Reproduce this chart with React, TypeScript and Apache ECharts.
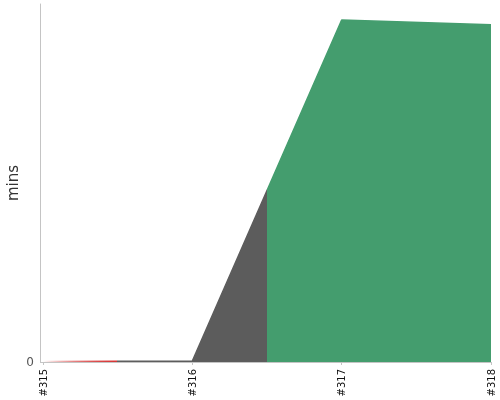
import { useEffect, useRef } from 'react'
import * as echarts from 'echarts'

const builds = ['#315', '#316', '#317', '#318']
const minutes = [0.2, 0.3, 95.5, 94.2]
const yTicks = [0, 100]

export default function App() {
  const chartRef = useRef<HTMLDivElement>(null)

  useEffect(() => {
    if (!chartRef.current) return
    const chart = echarts.init(chartRef.current, null, { renderer: 'svg' })

    // red fade, then grey, then green along x
    const fill = new echarts.graphic.LinearGradient(0, 0, 1, 0, [
      { offset: 0, color: 'rgba(214, 50, 50, 0)' },
      { offset: 0.165, color: 'rgba(214, 50, 50, 1)' },
      { offset: 0.165, color: '#5c5c5c' },
      { offset: 0.5, color: '#5c5c5c' },
      { offset: 0.5, color: '#449d6e' },
      { offset: 1, color: '#449d6e' }
    ])

    const option: any = {
      animation: false,
      grid: {
        left: 43,
        right: 9,
        top: 4,
        bottom: 38,
        containLabel: false,
        outerBoundsMode: 'none'
      },
      xAxis: {
        type: 'category',
        data: builds,
        boundaryGap: false,
        offset: 3,
        axisLine: {
          lineStyle: { color: '#c4c4c4' }
        },
        axisTick: {
          length: 3,
          lineStyle: { color: '#c4c4c4' }
        },
        axisLabel: {
          rotate: 90,
          margin: 4,
          fontSize: 10,
          color: '#111',
          fontFamily: 'DejaVu Sans'
        }
      },
      yAxis: {
        type: 'value',
        min: yTicks[0],
        max: yTicks[yTicks.length - 1],
        interval: yTicks[1] - yTicks[0],
        offset: 3,
        name: 'mins',
        nameLocation: 'middle',
        nameGap: 20,
        nameMoveOverlap: false,
        nameTextStyle: {
          fontSize: 15,
          color: '#333',
          fontFamily: 'DejaVu Sans'
        },
        axisLine: {
          show: true,
          lineStyle: { color: '#c4c4c4' }
        },
        axisTick: {
          show: true,
          inside: true,
          length: 3,
          lineStyle: { color: '#c4c4c4' }
        },
        splitLine: { show: false },
        axisLabel: {
          showMaxLabel: false,
          margin: 6,
          fontSize: 12,
          color: '#555',
          fontFamily: 'DejaVu Sans'
        }
      },
      series: [
        {
          type: 'line',
          data: minutes,
          showSymbol: false,
          lineStyle: { width: 1.5, color: fill },
          areaStyle: { color: fill, opacity: 1 }
        }
      ]
    }

    chart.setOption(option)

    return () => {
      chart.dispose()
    }
  }, [])

  return (
    <div
      ref={chartRef}
      style={{
        position: 'fixed',
        left: 0,
        top: 0,
        width: '500px',
        height: '400px'
      }}
    />
  )
}
